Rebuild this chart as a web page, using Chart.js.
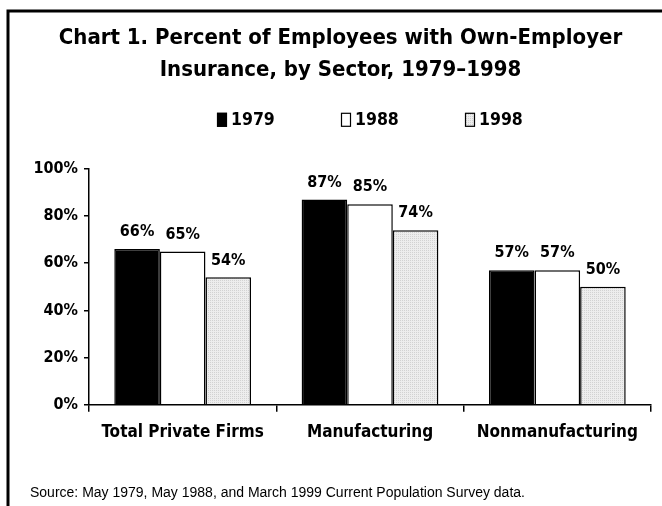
<!DOCTYPE html>
<html>
<head>
<meta charset="utf-8">
<script src="https://cdn.jsdelivr.net/npm/chart.js@4/dist/chart.umd.min.js"></script>
<style>
  html, body { margin: 0; padding: 0; background: #fff; }
  #wrap { width: 662px; height: 506px; }
</style>
</head>
<body>
<div id="wrap"><canvas id="chart" width="662" height="506"></canvas></div>
<script>
const sectors = ['Total Private Firms', 'Manufacturing', 'Nonmanufacturing'];
const years = ['1979', '1988', '1998'];
const share1979 = [66, 87, 57];
const share1988 = [65, 85, 57];
const share1998 = [54, 74, 50];
const yTicks = [0, 20, 40, 60, 80, 100];

const heavy = "'DejaVu Sans Condensed', 'Liberation Sans Narrow', sans-serif";

// light dotted grey fill for the 1998 bars
function dotPattern() {
    const c = document.createElement('canvas');
    c.width = 2; c.height = 2;
    const g = c.getContext('2d');
    g.fillStyle = '#ededed';
    g.fillRect(0, 0, 2, 2);
    g.fillStyle = '#d2d2d2';
    g.fillRect(0, 0, 1, 1);
    return g.createPattern(c, 'repeat');
}

// value labels above each bar
const barLabels = {
    id: 'barLabels',
    afterDatasetsDraw(chart) {
        const ctx = chart.ctx;
        ctx.save();
        ctx.font = "bold 16px " + heavy;
        ctx.fillStyle = '#000';
        ctx.textAlign = 'center';
        ctx.textBaseline = 'bottom';
        chart.data.datasets.forEach((ds, i) => {
            chart.getDatasetMeta(i).data.forEach((bar, j) => {
                ctx.fillText(ds.data[j] + '%', bar.x, bar.y - 9);
            });
        });
        ctx.restore();
    }
};

// legend row between title and plot
const yearLegend = {
    id: 'yearLegend',
    afterDraw(chart) {
        const ctx = chart.ctx;
        const area = chart.chartArea;
        const mid = (area.left + area.right) / 2;
        const y = area.top - 49;
        ctx.save();
        ctx.font = "bold 17.5px " + heavy;
        ctx.textBaseline = 'middle';
        ctx.textAlign = 'left';
        chart.data.datasets.forEach((ds, i) => {
            const x = mid + (i - 1) * 124 - 29;
            ctx.fillStyle = ds.backgroundColor;
            ctx.fillRect(x, y - 7, 10, 14);
            ctx.strokeStyle = '#000';
            ctx.lineWidth = 1.2;
            ctx.strokeRect(x + 0.5, y - 6.5, 9, 13);
            ctx.fillStyle = '#000';
            ctx.fillText(ds.label, x + 14, y + 1);
        });
        ctx.restore();
    }
};

// page frame: left and top rules
const frame = {
    id: 'frame',
    beforeDraw(chart) {
        const ctx = chart.ctx;
        ctx.save();
        ctx.fillStyle = '#fff';
        ctx.fillRect(0, 0, chart.width, chart.height);
        ctx.strokeStyle = '#000';
        ctx.lineWidth = 3;
        ctx.beginPath();
        ctx.moveTo(8, chart.height);
        ctx.lineTo(8, 11);
        ctx.lineTo(chart.width, 11);
        ctx.stroke();
        ctx.restore();
    }
};

new Chart(document.getElementById('chart'), {
    type: 'bar',
    data: {
        labels: sectors,
        datasets: [
            { label: years[0], data: share1979, backgroundColor: '#000', borderColor: '#000', borderWidth: 1.5 },
            { label: years[1], data: share1988, backgroundColor: '#fff', borderColor: '#000', borderWidth: 1.5 },
            { label: years[2], data: share1998, backgroundColor: dotPattern(), borderColor: '#000', borderWidth: 1.5 }
        ]
    },
    options: {
        responsive: false,
        animation: false,
        layout: { padding: { left: 30, right: 11, top: 0, bottom: 0 } },
        datasets: { bar: { categoryPercentage: 0.73, barPercentage: 1.0 } },
        plugins: {
            tooltip: { enabled: false },
            legend: { display: false },
            title: {
                display: true,
                text: ['Chart 1. Percent of Employees with Own-Employer', 'Insurance, by Sector, 1979\u20131998'],
                color: '#000',
                font: { family: heavy, size: 22, weight: 'bold', lineHeight: 1.45 },
                padding: { top: 22, bottom: 83 }
            },
            subtitle: {
                display: true,
                position: 'bottom',
                align: 'start',
                text: 'Source: May 1979, May 1988, and March 1999 Current Population Survey data.',
                color: '#000',
                font: { family: "'Liberation Sans', Arial, sans-serif", size: 14, weight: 'normal' },
                padding: { top: 31, bottom: 4 }
            }
        },
        scales: {
            x: {
                grid: { display: true, drawOnChartArea: false, offset: true, color: '#000', tickLength: 7, lineWidth: 1.5 },
                border: { display: true, color: '#000', width: 1.5 },
                ticks: { color: '#000', font: { family: heavy, size: 17, weight: 'bold' }, padding: 11 }
            },
            y: {
                min: 0,
                max: 100,
                afterFit(scale) { scale.width = 59; },
                afterBuildTicks(scale) { scale.ticks = yTicks.map(v => ({ value: v })); },
                grid: { display: true, drawOnChartArea: false, color: '#000', tickLength: 5, lineWidth: 1.5 },
                border: { display: true, color: '#000', width: 1.5 },
                ticks: {
                    color: '#000',
                    font: { family: heavy, size: 16, weight: 'bold' },
                    padding: 6,
                    callback: v => v + '%'
                }
            }
        }
    },
    plugins: [frame, barLabels, yearLegend]
});
</script>
</body>
</html>
